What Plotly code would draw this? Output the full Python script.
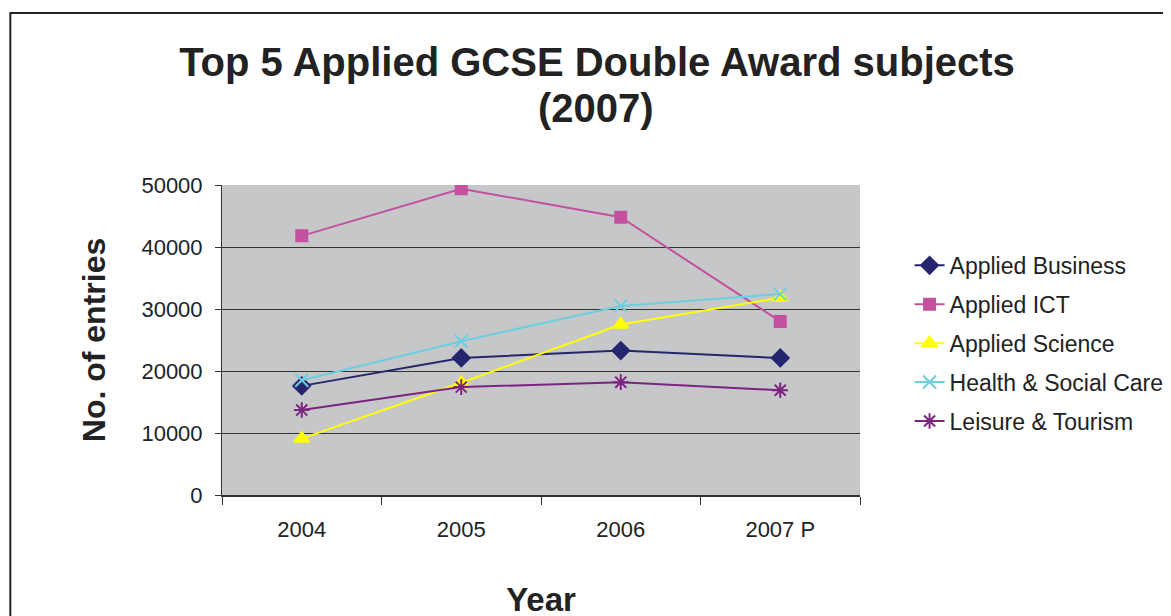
import plotly.graph_objects as go

# Dados do gráfico
years = ['2004', '2005', '2006', '2007 P']
applied_business = [17600, 22100, 23300, 22100]
applied_ict = [41800, 49400, 44800, 28000]
applied_science = [9100, 18100, 27500, 31800]
health_social_care = [18500, 24800, 30500, 32400]
leisure_tourism = [13700, 17400, 18200, 16900]

series = [
    ('Applied Business', applied_business, '#26266E', 'diamond', 13),
    ('Applied ICT', applied_ict, '#C4519F', 'square', 11),
    ('Applied Science', applied_science, '#FFFF00', 'triangle-up', 13),
    ('Health & Social Care', health_social_care, '#6CCFE0', 'x-thin-open', 13),
    ('Leisure & Tourism', leisure_tourism, '#7B2480', 'asterisk-open', 13),
]

fig = go.Figure()
for name, vals, color, symbol, size in series:
    fig.add_trace(go.Scatter(
        x=years, y=vals, name=name, mode='lines+markers',
        legendgroup=name,
        line=dict(color=color, width=2),
        marker=dict(symbol=symbol, size=size, color=color,
                    line=dict(color=color, width=2)),
    ))

# a página tem margem de 8px no body, por isso as margens são compensadas
fig.update_layout(
    width=1171, height=616,
    paper_bgcolor='white',
    plot_bgcolor='#C6C7C9',
    font=dict(family='Liberation Sans, Arial, sans-serif', color='#222'),
    margin=dict(l=214, r=318, t=177, b=129),
    title=dict(
        text='<b>Top 5 Applied GCSE Double Award subjects</b>',
        x=589 / 1171, xanchor='center', y=0.9355, yanchor='top',
        font=dict(size=40, color='#222'),
    ),
    # segunda linha do título, com espaçamento mais curto
    annotations=[dict(
        text='<b>(2007)</b>', xref='paper', yref='paper',
        x=(589 - 214) / 639, y=(487 - 100) / 310,
        xanchor='center', yanchor='middle', showarrow=False,
        font=dict(size=40, color='#222'),
    )],
    legend=dict(
        x=1.076, xanchor='left', y=0.81, yanchor='top',
        font=dict(size=23, color='#222'),
        tracegroupgap=6,
        bgcolor='rgba(0,0,0,0)',
    ),
    xaxis=dict(
        type='category',
        range=[-0.5, 3.5],
        showgrid=False,
        showline=True, linecolor='#333', linewidth=2,
        ticks='outside', tickson='boundaries', ticklen=8, tickcolor='#333',
        tickfont=dict(size=22),
        ticklabelstandoff=14,
        title=dict(text='<b>Year</b>', font=dict(size=33), standoff=46),
    ),
    yaxis=dict(
        range=[0, 50000],
        tickvals=[0, 10000, 20000, 30000, 40000, 50000],
        tickformat='d',
        showgrid=True, gridcolor='#333', gridwidth=1,
        zeroline=False,
        showline=True, linecolor='#333', linewidth=1,
        ticks='outside', ticklen=6, tickcolor='#333',
        tickfont=dict(size=22),
        ticklabelstandoff=8,
        title=dict(text='<b>No. of entries</b>', font=dict(size=32), standoff=26),
    ),
    shapes=[dict(
        type='rect', xref='paper', yref='paper',
        x0=(10 - 222) / 639, x1=1.7, y0=-0.6, y1=(495 - 13) / 310,
        line=dict(color='#222', width=2), fillcolor='rgba(0,0,0,0)',
        layer='below',
    )],
)

fig.write_html('out.html')
